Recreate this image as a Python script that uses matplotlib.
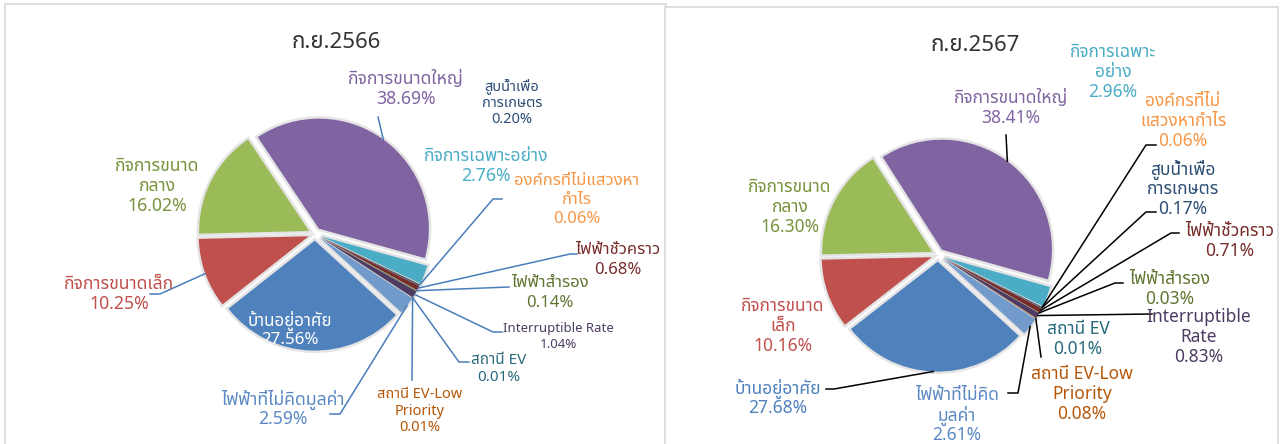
import numpy as np
import matplotlib
matplotlib.use('Agg')
import matplotlib.pyplot as plt
from matplotlib import font_manager
from matplotlib.ft2font import FT2Font
from matplotlib.patches import Rectangle

# ---- data ----
categories = ['บ้านอยู่อาศัย', 'กิจการขนาดเล็ก', 'กิจการขนาดกลาง', 'กิจการขนาดใหญ่',
              'กิจการเฉพาะอย่าง', 'องค์กรที่ไม่แสวงหากำไร', 'สูบน้ำเพื่อการเกษตร',
              'ไฟฟ้าชั่วคราว', 'ไฟฟ้าสำรอง', 'Interruptible Rate', 'สถานี EV',
              'สถานี EV-Low Priority', 'ไฟฟ้าที่ไม่คิดมูลค่า']
share_2566 = [27.56, 10.25, 16.02, 38.69, 2.76, 0.06, 0.20, 0.68, 0.14, 1.04, 0.01, 0.01, 2.59]
share_2567 = [27.68, 10.16, 16.30, 38.41, 2.96, 0.06, 0.17, 0.71, 0.03, 0.83, 0.01, 0.08, 2.61]

# how each label is broken into lines in the two charts
names_2566 = ['บ้านอยู่อาศัย', 'กิจการขนาดเล็ก', 'กิจการขนาด\nกลาง', 'กิจการขนาดใหญ่',
              'กิจการเฉพาะอย่าง', 'องค์กรที่ไม่แสวงหา\nกำไร', 'สูบน้ำเพื่อ\nการเกษตร',
              'ไฟฟ้าชั่วคราว', 'ไฟฟ้าสำรอง', 'Interruptible Rate', 'สถานี EV',
              'สถานี EV-Low\nPriority', 'ไฟฟ้าที่ไม่คิดมูลค่า']
names_2567 = ['บ้านอยู่อาศัย', 'กิจการขนาด\nเล็ก', 'กิจการขนาด\nกลาง', 'กิจการขนาดใหญ่',
              'กิจการเฉพาะ\nอย่าง', 'องค์กรที่ไม่\nแสวงหากำไร', 'สูบน้ำเพื่อ\nการเกษตร',
              'ไฟฟ้าชั่วคราว', 'ไฟฟ้าสำรอง', 'Interruptible\nRate', 'สถานี EV',
              'สถานี EV-Low\nPriority', 'ไฟฟ้าที่ไม่คิด\nมูลค่า']

# ---- styles ----
slice_colors = ['#4F81BD', '#C0504D', '#9BBB59', '#8064A2', '#4BACC6', '#F79646', '#2C4D75',
                '#772C2A', '#5F7530', '#4D3B62', '#276A7C', '#B65708', '#729ACA']
label_colors = ['#4F81BD', '#C0504D', '#77933C', '#8064A2', '#4BACC6', '#F79646', '#2C4D75',
                '#772C2A', '#5F7530', '#4D3B62', '#276A7C', '#B65708', '#5B89C5']


def thai_font():
    prefer = ['Tahoma', 'Leelawadee UI', 'Leelawadee', 'Noto Sans Thai', 'Noto Sans Thai UI',
              'Noto Sans Thai Looped', 'Sarabun', 'Loma', 'Garuda', 'Waree', 'Kinnari']
    found = []
    for f in font_manager.fontManager.ttflist:
        try:
            if 0x0E01 in FT2Font(f.fname).get_charmap():
                found.append(f.name)
        except Exception:
            pass
    for p in prefer:
        if p in found:
            return p
    return found[0] if found else None


tf = thai_font()
fams = ([tf] if tf else []) + ['DejaVu Sans']
plt.rcParams['font.family'] = fams

W, H = 1286, 444
R = 110.0  # pie radius in pixels
EXPLODE = 0.06
PITCH = 1.15  # line pitch as a multiple of the font size

fig = plt.figure(figsize=(W / 100, H / 100), dpi=100)

# panel frames
fig.patches.append(Rectangle((5 / W, 1 - 450 / H), 661 / W, 446 / H, transform=fig.transFigure,
                             facecolor='white', edgecolor='#d9d9d9', lw=1.2, zorder=-2))
fig.patches.append(Rectangle((665 / W, 1 - 450 / H), 613 / W, 443 / H, transform=fig.transFigure,
                             facecolor='white', edgecolor='#d9d9d9', lw=1.2, zorder=-1))

# layout, in pixels of the picture: pie centre, title, label centres, leader lines
panels = [
    dict(values=share_2566, names=names_2566, title='ก.ย.2566', center=(315, 234), title_xy=(336, 42),
         start=-42.5, line_color='#4A7EBB',
         label_xy=[(290, 328), (119, 292), (157, 184), (406, 87), (486, 164), (577, 198), (512, 101),
                   (618, 258), (550, 291), (558, 335), (499, 367), (420, 409), (283, 407)],
         sizes=[12.2, 12.7, 12.7, 12.7, 12.7, 12, 10.5, 12, 12, 9.5, 11, 10.5, 12.7],
         leaders={1: [(160, 294), (150, 294)], 3: [(378, 117)], 5: [(493, 199), (502, 199)],
                  7: [(570, 254), (577, 254)], 8: [(509, 287)], 9: [(493, 332), (502, 332)],
                  10: [(459, 362), (469, 362)], 11: [(412, 380)], 12: [(340, 414), (330, 414)]}),
    dict(values=share_2567, names=names_2567, title='ก.ย.2567', center=(938, 255), title_xy=(975, 45),
         start=-42.5, line_color='black',
         label_xy=[(778, 396), (783, 324), (790, 205), (1011, 106), (1113, 70), (1183, 119), (1183, 187),
                   (1230, 239), (1170, 287), (1199, 335), (1078, 337), (1082, 392), (957, 413)],
         sizes=[12.5] * 13,
         leaders={0: [(834, 389), (826, 389)], 3: [(1006, 135)], 5: [(1146, 145), (1156, 145)],
                  6: [(1146, 212), (1156, 212)], 7: [(1171, 233), (1179, 233)],
                  8: [(1115, 283), (1123, 283)], 9: [(1152, 314)], 11: [(1041, 357)],
                  12: [(1018, 393), (1008, 393)]}),
]

for p in panels:
    cx, cy = p['center']

    def to_data(xy):
        return ((xy[0] - cx) / R, (cy - xy[1]) / R)

    ax = fig.add_axes([0, 0, 1, 1])
    ax.patch.set_alpha(0)
    vals = np.array(p['values'])
    expl = [EXPLODE] * len(vals)
    # soft grey halo behind slices
    ax.pie(vals, explode=expl, colors=['#dcdcdc'] * len(vals), startangle=p['start'], counterclock=False,
           wedgeprops=dict(edgecolor='#e4e4e4', linewidth=3.5), normalize=True)
    wedges, _ = ax.pie(vals, explode=expl, colors=slice_colors, startangle=p['start'], counterclock=False,
                       wedgeprops=dict(edgecolor='none'), normalize=True)
    ax.set_aspect('auto')
    ax.set_xlim(-cx / R, (W - cx) / R)
    ax.set_ylim((cy - H) / R, cy / R)
    ax.axis('off')

    ax.text(*to_data(p['title_xy']), p['title'], fontsize=16, color='#333333', ha='center', va='center')

    for i, w in enumerate(wedges):
        lines = p['names'][i].split('\n') + ['%.2f%%' % p['values'][i]]
        col = label_colors[i]
        if i == 0 and p['title'].endswith('2566'):
            col = 'white'
        fs = p['sizes'][i]
        step = fs * PITCH * 100 / 72
        lx, ly = p['label_xy'][i]
        for k, line in enumerate(lines):
            yk = ly + (k - (len(lines) - 1) / 2) * step
            ax.text(*to_data((lx, yk)), line, fontsize=fs, color=col, ha='center', va='center_baseline')
        if i in p['leaders']:
            mid = np.deg2rad((w.theta1 + w.theta2) / 2)
            sx = w.center[0] + w.r * np.cos(mid)
            sy = w.center[1] + w.r * np.sin(mid)
            pts = [(sx, sy)] + [to_data(q) for q in p['leaders'][i]]
            xs, ys = zip(*pts)
            ax.plot(xs, ys, color=p['line_color'], lw=1.1)

fig.savefig('out.png', dpi=100)
